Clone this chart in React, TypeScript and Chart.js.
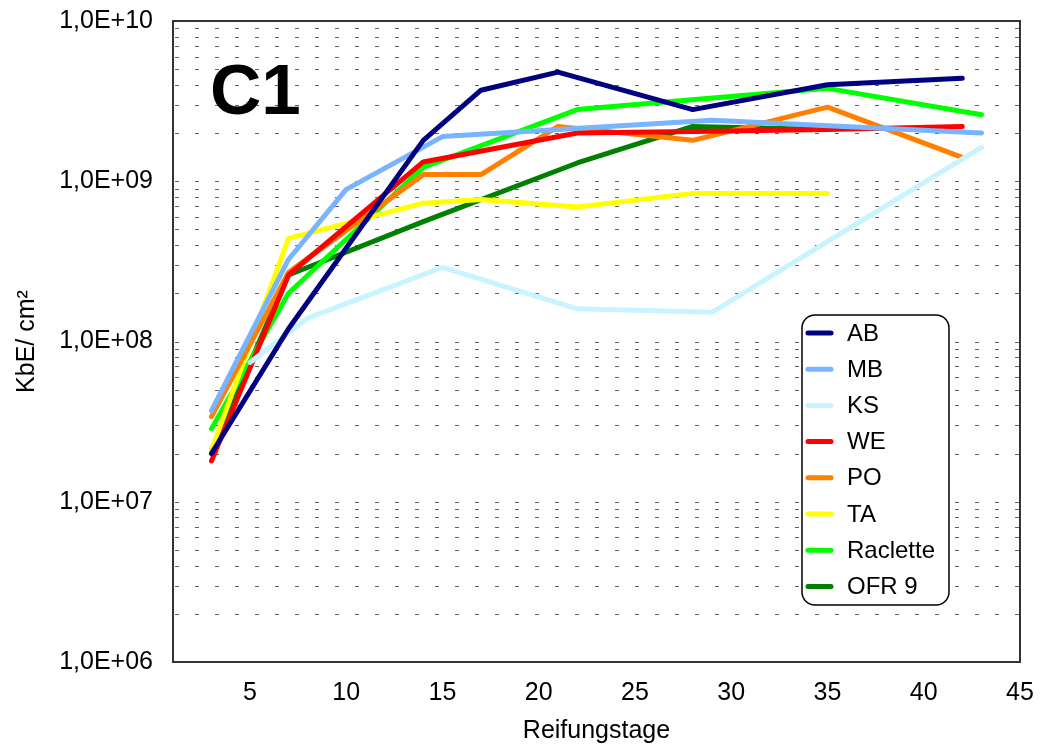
import { useEffect, useRef } from 'react';
import { Chart, registerables } from 'chart.js';

Chart.register(...registerables);

const FONT = "'Liberation Sans', Arial, Helvetica, sans-serif";

const seriesNames = ['AB', 'MB', 'KS', 'WE', 'PO', 'TA', 'Raclette', 'OFR 9'];
const seriesColors = ['#000080', '#78b4ff', '#c8f4ff', '#ff0000', '#ff8000', '#ffff00', '#00ff00', '#008000'];

const abDays = [3, 7, 14, 17, 21, 28, 35, 42];
const abValues = [2.0e7, 1.2e8, 1.8e9, 3.7e9, 4.8e9, 2.8e9, 4.0e9, 4.4e9];
const mbDays = [3, 7, 10, 15, 29, 43];
const mbValues = [3.7e7, 3.25e8, 8.9e8, 1.9e9, 2.4e9, 2.0e9];
const ksDays = [5, 8, 15, 22, 29, 43];
const ksValues = [7.4e7, 1.4e8, 2.9e8, 1.6e8, 1.52e8, 1.63e9];
const weDays = [3, 7, 14, 22, 29, 35, 42];
const weValues = [1.8e7, 2.6e8, 1.32e9, 2.0e9, 2.05e9, 2.1e9, 2.2e9];
const poDays = [3, 7, 14, 17, 21, 28, 35, 42];
const poValues = [3.4e7, 2.7e8, 1.1e9, 1.1e9, 2.2e9, 1.8e9, 2.9e9, 1.41e9];
const taDays = [3, 7, 14, 17, 22, 28, 35];
const taValues = [2.1e7, 4.4e8, 7.3e8, 7.7e8, 6.9e8, 8.4e8, 8.4e8];
const raDays = [3, 7, 14, 22, 35, 43];
const raValues = [2.86e7, 2.0e8, 1.22e9, 2.8e9, 3.8e9, 2.6e9];
const ofDays = [3, 7, 14, 22, 28, 35];
const ofValues = [2.1e7, 2.6e8, 5.6e8, 1.3e9, 2.2e9, 2.1e9];

const xTickValues = [5, 10, 15, 20, 25, 30, 35, 40, 45];
const yDecades = [6, 7, 8, 9, 10];
const yTickLabels = ['1,0E+06', '1,0E+07', '1,0E+08', '1,0E+09', '1,0E+10'];
const panelLabel = 'C1';
const xTitle = 'Reifungstage';
const yTitle = 'KbE/ cm²';

const seriesDays = [abDays, mbDays, ksDays, weDays, poDays, taDays, raDays, ofDays];
const seriesValues = [abValues, mbValues, ksValues, weValues, poValues, taValues, raValues, ofValues];

const gridPlugin = {
  id: 'dashGrid',
  beforeDatasetsDraw(chart: any) {
    const { ctx, chartArea } = chart;
    const ys = chart.scales.y;
    ctx.save();
    ctx.strokeStyle = '#606060';
    ctx.lineWidth = 1;
    ctx.setLineDash([4, 16]);
    ys.ticks.forEach((t: any) => {
      const py = Math.round(ys.getPixelForValue(t.value)) + 0.5;
      if (py > chartArea.bottom - 2) return;
      ctx.beginPath();
      ctx.moveTo(chartArea.left + 2, py);
      ctx.lineTo(chartArea.right, py);
      ctx.stroke();
    });
    ctx.restore();
  },
};

const decorPlugin = {
  id: 'decor',
  afterDatasetsDraw(chart: any) {
    const { ctx, chartArea } = chart;
    ctx.save();
    // border
    ctx.strokeStyle = '#333333';
    ctx.lineWidth = 2;
    ctx.strokeRect(chartArea.left, chartArea.top, chartArea.right - chartArea.left, chartArea.bottom - chartArea.top);
    // panel label
    ctx.fillStyle = '#000';
    ctx.font = `bold 71px ${FONT}`;
    ctx.textBaseline = 'alphabetic';
    ctx.textAlign = 'left';
    ctx.fillText(panelLabel, 210, 114);
    // legend box
    const bx = 802, by = 315, bw = 147, bh = 290, r = 13;
    ctx.beginPath();
    ctx.moveTo(bx + r, by);
    ctx.lineTo(bx + bw - r, by);
    ctx.arcTo(bx + bw, by, bx + bw, by + r, r);
    ctx.lineTo(bx + bw, by + bh - r);
    ctx.arcTo(bx + bw, by + bh, bx + bw - r, by + bh, r);
    ctx.lineTo(bx + r, by + bh);
    ctx.arcTo(bx, by + bh, bx, by + bh - r, r);
    ctx.lineTo(bx, by + r);
    ctx.arcTo(bx, by, bx + r, by, r);
    ctx.closePath();
    ctx.fillStyle = '#fff';
    ctx.fill();
    ctx.strokeStyle = '#000';
    ctx.lineWidth = 1.5;
    ctx.stroke();
    chart.data.datasets.forEach((ds: any, i: number) => {
      const y = 333 + i * 36.2;
      ctx.beginPath();
      ctx.strokeStyle = ds.borderColor;
      ctx.lineWidth = 5;
      ctx.lineCap = 'round';
      ctx.moveTo(808, y);
      ctx.lineTo(831, y);
      ctx.stroke();
      ctx.fillStyle = '#000';
      ctx.font = `24px ${FONT}`;
      ctx.textBaseline = 'middle';
      ctx.textAlign = 'left';
      ctx.fillText(ds.label, 847, y + 1);
    });
    ctx.restore();
  },
};

export default function App() {
  const ref = useRef<HTMLCanvasElement | null>(null);
  useEffect(() => {
    if (!ref.current) return;
    const datasets = seriesNames.map((name, i) => ({
      label: name,
      data: seriesDays[i].map((d, j) => ({ x: d, y: seriesValues[i][j] })),
      borderColor: seriesColors[i],
      backgroundColor: seriesColors[i],
      borderWidth: 5,
      borderCapStyle: 'round' as const,
      borderJoinStyle: 'round' as const,
      pointRadius: 0,
      pointHoverRadius: 0,
      fill: false,
      tension: 0,
    }));
    const chart = new Chart(ref.current, {
      type: 'line',
      data: { datasets },
      plugins: [gridPlugin, decorPlugin],
      options: {
        responsive: false,
        animation: false,
        layout: { padding: { top: 21, right: 21, left: 0, bottom: 0 } },
        plugins: { legend: { display: false }, tooltip: { enabled: false } },
        scales: {
          x: {
            type: 'linear',
            min: 1,
            max: 45,
            grid: { display: false, drawTicks: false },
            border: { display: false },
            afterBuildTicks: (s: any) => { s.ticks = xTickValues.map((v) => ({ value: v })); },
            afterFit: (s: any) => { s.height = 82; s.paddingLeft = 0; s.paddingRight = 0; },
            ticks: { color: '#000', font: { family: FONT, size: 25 }, padding: 16, maxRotation: 0, autoSkip: false },
            title: { display: true, text: xTitle, color: '#000', font: { family: FONT, size: 25, lineHeight: 1 }, padding: { top: 0, bottom: 0 } },
          },
          y: {
            type: 'logarithmic',
            min: 1e6,
            max: 1e10,
            grid: { display: false, drawTicks: false },
            border: { display: false },
            afterBuildTicks: (s: any) => {
              const t: any[] = [];
              yDecades.forEach((e, k) => {
                if (k === yDecades.length - 1) { t.push({ value: Math.pow(10, e) }); return; }
                for (let m = 1; m <= 9; m++) t.push({ value: m * Math.pow(10, e) });
              });
              s.ticks = t;
            },
            afterFit: (s: any) => { s.width = 173; s.paddingTop = 0; s.paddingBottom = 0; },
            ticks: {
              color: '#000',
              font: { family: FONT, size: 25 },
              padding: 20,
              autoSkip: false,
              callback: (v: any) => {
                const e = Math.log10(Number(v));
                const idx = yDecades.findIndex((d) => Math.abs(d - e) < 1e-9);
                return idx >= 0 ? yTickLabels[idx] : '';
              },
            },
            title: { display: true, text: yTitle, color: '#000', font: { family: FONT, size: 25, lineHeight: 1 }, padding: { top: 15, bottom: 0 } },
          },
        },
      },
    });
    return () => chart.destroy();
  }, []);
  return (
    <div style={{ position: 'absolute', left: 0, top: 0, width: 1041, height: 744, background: '#fff' }}>
      <canvas ref={ref} width={1041} height={744} style={{ display: 'block' }} />
    </div>
  );
}
